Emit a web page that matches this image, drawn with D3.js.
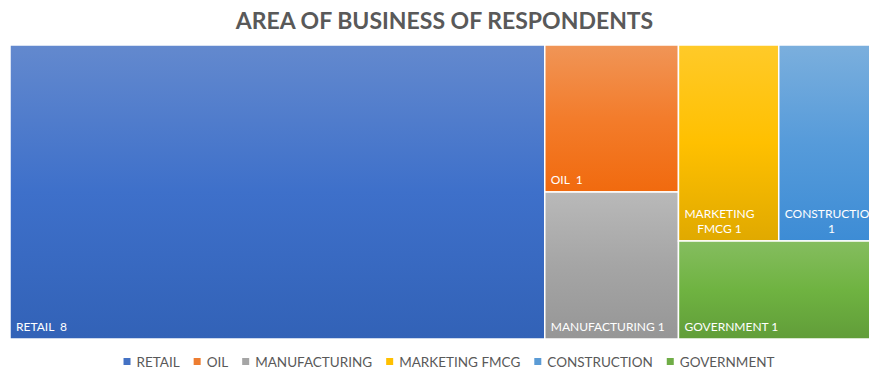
<!DOCTYPE html>
<html>
<head>
<meta charset="utf-8">
<script src="https://cdn.jsdelivr.net/npm/d3@7"></script>
<style>
  body { margin: 0; background: #fff; }
  text { font-family: Lato, "Open Sans", sans-serif; }
</style>
</head>
<body>
<div id="chart"></div>
<script>
var width = 869;
var height = 370;

// data
var categories = ["RETAIL", "OIL", "MANUFACTURING", "MARKETING FMCG", "CONSTRUCTION", "GOVERNMENT"];
var values = [8, 1, 1, 1, 1, 1];
var labels = ["RETAIL  8", "OIL  1", "MANUFACTURING 1", "MARKETING FMCG 1", "CONSTRUCTION 1", "GOVERNMENT 1"];
var colors = ["#4472C4", "#ED7D31", "#A5A5A5", "#FFC000", "#5B9BD5", "#70AD47"];

// plot area (runs past the right edge, like the original)
var plot = { left: 10, top: 45, width: 869, height: 294 };

var svg = d3.select("#chart")
	.append("svg")
	.attr("width", width)
	.attr("height", height);

var defs = svg.append("defs");
colors.forEach(function(c, i) {
	var hsl = d3.hsl(c);
	var top = d3.hsl(hsl.h, hsl.s, Math.min(hsl.l + 0.08, 0.95));
	var mid = d3.hsl(hsl.h, Math.min(hsl.s + 0.05, 1), hsl.l);
	var bot = d3.hsl(hsl.h, Math.min(hsl.s + 0.05, 1), hsl.l - 0.06);
	var g = defs.append("linearGradient")
		.attr("id", "grad" + i)
		.attr("x1", 0).attr("y1", 0).attr("x2", 0).attr("y2", 1);
	g.append("stop").attr("offset", "0%").attr("stop-color", top + "");
	g.append("stop").attr("offset", "50%").attr("stop-color", mid + "");
	g.append("stop").attr("offset", "100%").attr("stop-color", bot + "");
});

svg.append("text")
	.attr("x", plot.left + plot.width / 2)
	.attr("y", 29)
	.attr("text-anchor", "middle")
	.attr("font-size", 23)
	.attr("font-weight", "bold")
	.attr("fill", "#595959")
	.text("AREA OF BUSINESS OF RESPONDENTS");

var data = categories.map(function(c, i) {
	return { name: c, value: values[i], label: labels[i], idx: i };
});

var root = d3.hierarchy({ children: data })
	.sum(function(d) { return d.value || 0; });

d3.treemap()
	.tile(d3.treemapSquarify.ratio(1))
	.size([plot.width, plot.height])
	(root);

var g = svg.append("g")
	.attr("transform", "translate(" + plot.left + "," + plot.top + ")");

var cells = g.selectAll(".cell")
	.data(root.leaves())
	.enter()
	.append("g")
	.attr("class", "cell");

cells.append("rect")
	.attr("x", function(d) { return d.x0; })
	.attr("y", function(d) { return d.y0; })
	.attr("width", function(d) { return d.x1 - d.x0; })
	.attr("height", function(d) { return d.y1 - d.y0; })
	.attr("fill", function(d) { return "url(#grad" + d.data.idx + ")"; })
	.attr("stroke", "#fff")
	.attr("stroke-width", 1.5);

// labels, bottom-left, wrapped when too wide
cells.each(function(d) {
	var cell = d3.select(this);
	var maxW = d.x1 - d.x0 - 10;
	var t = cell.append("text")
		.attr("font-size", 12)
		.attr("fill", "#fff")
		.style("white-space", "pre")
		.text(d.data.label);
	if (t.node().getComputedTextLength() <= maxW) {
		t.attr("x", d.x0 + 6).attr("y", d.y1 - 8);
		return;
	}
	t.remove();
	var words = d.data.label.split(/\s+/);
	var lines = [];
	var cur = "";
	var probe = cell.append("text").attr("font-size", 12);
	words.forEach(function(w) {
		var test = cur ? cur + " " + w : w;
		probe.text(test);
		if (cur && probe.node().getComputedTextLength() > maxW) {
			lines.push(cur);
			cur = w;
		} else {
			cur = test;
		}
	});
	lines.push(cur);
	var widths = lines.map(function(l) {
		probe.text(l);
		return probe.node().getComputedTextLength();
	});
	probe.remove();
	var blockW = d3.max(widths);
	var lineH = 15;
	lines.forEach(function(l, i) {
		cell.append("text")
			.attr("x", d.x0 + 6 + blockW / 2)
			.attr("y", d.y1 - 8 - (lines.length - 1 - i) * lineH)
			.attr("text-anchor", "middle")
			.attr("font-size", 12)
			.attr("fill", "#fff")
			.text(l);
	});
});

// legend
var legend = svg.append("g");
var x = 0;
categories.forEach(function(c, i) {
	var item = legend.append("g").attr("transform", "translate(" + x + ",0)");
	item.append("rect")
		.attr("x", 0).attr("y", -9)
		.attr("width", 7).attr("height", 7)
		.attr("fill", colors[i]);
	var t = item.append("text")
		.attr("x", 13)
		.attr("y", 0)
		.attr("font-size", 13.5)
		.attr("fill", "#595959")
		.text(c);
	x += 13 + t.node().getComputedTextLength() + 14;
});
var legendW = x - 14;
legend.attr("transform", "translate(" + (449 - legendW / 2) + ",367)");
</script>
</body>
</html>
